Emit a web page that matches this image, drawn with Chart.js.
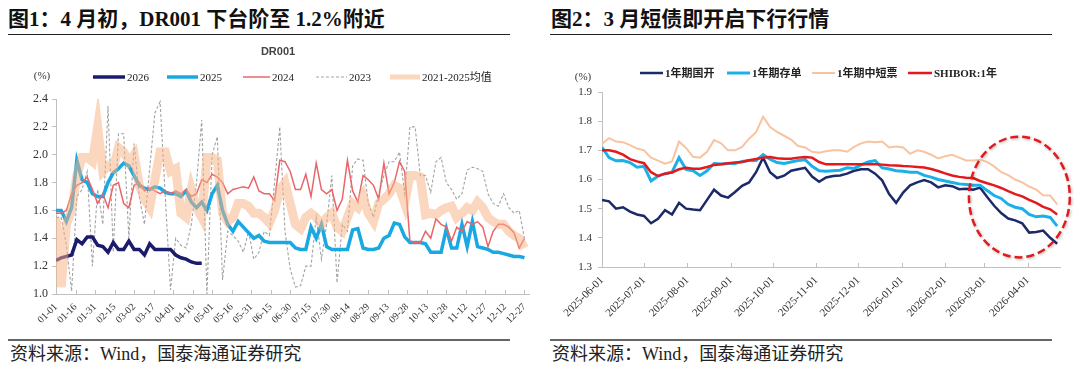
<!DOCTYPE html>
<html>
<head>
<meta charset="utf-8">
<script src="https://cdn.jsdelivr.net/npm/chart.js@4.4.1/dist/chart.umd.min.js"></script>
<style>
  body { margin: 0; width: 1080px; height: 369px; background: #fff; position: relative; overflow: hidden;
         font-family: "Liberation Serif", "Noto Sans CJK SC", serif; }
  .title { position: absolute; top: 9px; font-size: 21px; line-height: 21px; font-weight: bold; color: #111; white-space: nowrap; }
  .rule { position: absolute; height: 0; }
  .top { top: 34px; border-top: 1.5px solid #222; }
  .bottom { top: 339px; border-top: 2px solid #666; }
  .source { position: absolute; top: 345px; font-size: 18px; line-height: 18px; color: #222; white-space: nowrap; }
  .box { position: absolute; top: 40px; }
</style>
</head>
<body>
<div class="title" style="left:8px">图1：4 月初，DR001 下台阶至 1.2%附近</div>
<div class="rule top" style="left:8px;width:502px"></div>
<div class="title" style="left:551px">图2：3 月短债即开启下行行情</div>
<div class="rule top" style="left:550px;width:502px"></div>

<div class="box" style="left:0;width:540px;height:295px"><canvas id="dr001" width="540" height="295"></canvas></div>
<div class="box" style="left:545px;width:535px;height:295px"><canvas id="short" width="535" height="295"></canvas></div>

<div class="rule bottom" style="left:8px;width:502px"></div>
<div class="rule bottom" style="left:550px;width:502px"></div>
<div class="source" style="left:10px">资料来源：Wind，国泰海通证券研究</div>
<div class="source" style="left:552px">资料来源：Wind，国泰海通证券研究</div>

<script>
// ---- 图1 数据：DR001，按日历日每 4 天取一个点（从 01-01 起）----
const DR_STEP = 4;
const drTickLabels = ['01-01','01-16','01-31','02-15','03-02','03-17','04-01','04-16','05-01','05-16',
  '05-31','06-15','06-30','07-15','07-30','08-14','08-29','09-13','09-28','10-13','10-28','11-12',
  '11-27','12-12','12-27'];
const drYTicks = [1.0, 1.2, 1.4, 1.6, 1.8, 2.0, 2.2, 2.4];

const dr2026 = [1.24,1.26,1.27,1.28,1.39,1.36,1.41,1.41,1.35,1.34,
  1.30,1.37,1.32,1.32,1.38,1.32,1.32,1.28,1.36,1.32,
  1.32,1.32,1.32,1.28,1.26,1.25,1.23,1.22,1.22];
const dr2025 = [1.60,1.60,1.52,1.62,1.96,1.82,1.80,1.72,1.70,1.70,
  1.80,1.87,1.90,1.94,1.92,1.85,1.78,1.76,1.75,1.77,
  1.76,1.73,1.72,1.72,1.70,1.74,1.66,1.62,1.66,1.60,
  1.72,1.78,1.60,1.50,1.45,1.52,1.48,1.44,1.40,1.42,
  1.38,1.37,1.37,1.37,1.37,1.37,1.33,1.32,1.32,1.48,
  1.40,1.50,1.34,1.32,1.32,1.32,1.32,1.46,1.47,1.33,
  1.32,1.32,1.33,1.40,1.42,1.51,1.50,1.41,1.37,1.37,
  1.37,1.36,1.30,1.30,1.30,1.47,1.33,1.33,1.50,1.34,
  1.52,1.34,1.33,1.32,1.30,1.30,1.29,1.28,1.27,1.27,
  1.26];
const dr2024 = [1.58,1.58,1.60,1.72,1.78,1.80,1.84,1.75,1.65,1.72,
  1.62,1.78,1.80,1.65,1.62,1.78,1.80,1.74,1.76,1.74,
  1.72,1.74,1.72,1.74,1.72,1.75,1.70,1.72,1.82,1.80,
  1.86,1.84,1.80,1.72,1.75,1.76,1.77,1.76,1.84,1.74,
  1.72,1.72,1.67,1.96,1.95,1.88,1.75,1.75,1.86,1.70,
  1.94,1.75,1.72,1.75,1.60,1.68,1.96,1.74,1.66,1.85,
  1.82,1.78,1.68,1.94,1.72,1.80,1.95,1.88,1.38,1.37,
  1.37,1.45,1.40,1.54,1.50,1.48,1.38,1.48,1.45,1.52,
  1.50,1.52,1.48,1.34,1.45,1.50,1.50,1.48,1.44,1.33,
  1.40];
const dr2023 = [1.55,1.55,1.35,1.02,1.70,1.75,1.88,1.20,1.75,1.50,
  2.35,1.30,2.15,2.15,1.40,2.08,1.70,1.50,1.90,2.30,
  2.38,1.70,1.03,1.40,1.35,1.33,1.50,1.80,2.25,1.00,
  2.00,2.13,1.10,1.45,1.42,1.38,1.30,1.45,1.25,1.30,
  1.45,1.42,1.80,2.20,1.45,1.18,1.05,1.06,1.20,1.20,
  1.55,1.25,1.50,1.85,1.08,1.50,1.45,1.92,1.97,1.96,
  1.65,1.55,1.72,1.85,1.95,1.95,2.02,1.72,2.20,2.20,
  1.85,1.85,1.73,1.95,1.98,1.80,1.75,1.68,1.72,1.89,
  1.91,1.90,1.88,1.72,1.65,1.63,1.72,1.62,1.58,1.60,
  1.40];
const drAvg = [1.55,1.05,1.50,1.60,1.85,1.98,1.98,1.95,2.20,1.88,
  1.92,1.90,2.05,2.02,1.95,2.00,1.78,1.68,1.62,1.82,
  2.02,2.02,1.88,1.90,1.58,1.55,1.75,1.62,1.55,1.98,
  1.98,1.96,1.58,1.52,1.55,1.65,1.65,1.63,1.58,1.58,
  1.55,1.51,1.60,1.75,1.80,1.65,1.50,1.47,1.55,1.58,
  1.55,1.50,1.55,1.58,1.48,1.45,1.55,1.65,1.62,1.70,
  1.58,1.52,1.65,1.68,1.72,1.78,1.76,1.65,1.85,1.85,
  1.84,1.57,1.58,1.57,1.60,1.62,1.63,1.55,1.58,1.62,
  1.60,1.66,1.62,1.55,1.52,1.50,1.50,1.45,1.42,1.40,
  1.33];

// ---- 图2 数据：2025-06-01 起每 5 个日历日一个点 ----
const SB_START = '2025-06-01';
const SB_STEP = 5;
const sbTickLabels = ['2025-06-01','2025-07-01','2025-08-01','2025-09-01','2025-10-01','2025-11-01',
  '2025-12-01','2026-01-01','2026-02-01','2026-03-01','2026-04-01'];
const sbYTicks = [1.3, 1.4, 1.5, 1.6, 1.7, 1.8, 1.9];

const cdbBond = [1.53,1.525,1.50,1.505,1.49,1.48,1.475,1.45,1.465,1.495,
  1.48,1.52,1.50,1.497,1.495,1.53,1.565,1.545,1.538,1.557,
  1.578,1.59,1.625,1.675,1.625,1.605,1.613,1.63,1.635,1.64,
  1.61,1.592,1.607,1.612,1.614,1.62,1.63,1.635,1.635,1.62,
  1.597,1.55,1.52,1.555,1.58,1.59,1.598,1.59,1.573,1.58,
  1.577,1.567,1.568,1.565,1.572,1.54,1.51,1.485,1.466,1.46,
  1.45,1.418,1.42,1.425,1.40,1.38];
const ncd1y = [1.71,1.675,1.664,1.665,1.658,1.642,1.645,1.595,1.612,1.62,
  1.625,1.675,1.635,1.63,1.614,1.63,1.655,1.653,1.655,1.655,
  1.662,1.665,1.665,1.685,1.67,1.658,1.655,1.66,1.665,1.668,
  1.645,1.63,1.628,1.63,1.632,1.64,1.638,1.65,1.66,1.665,
  1.64,1.636,1.63,1.628,1.625,1.625,1.614,1.608,1.60,1.595,
  1.59,1.585,1.583,1.58,1.58,1.562,1.545,1.535,1.515,1.505,
  1.50,1.48,1.472,1.475,1.47,1.44];
const mtn1y = [1.722,1.742,1.73,1.728,1.718,1.706,1.70,1.675,1.665,1.654,
  1.662,1.73,1.708,1.678,1.675,1.695,1.735,1.724,1.70,1.70,
  1.712,1.74,1.762,1.815,1.78,1.763,1.75,1.737,1.715,1.71,
  1.695,1.692,1.697,1.70,1.70,1.695,1.712,1.724,1.73,1.728,
  1.73,1.71,1.713,1.71,1.688,1.70,1.695,1.685,1.672,1.68,
  1.685,1.675,1.665,1.665,1.668,1.66,1.645,1.625,1.615,1.60,
  1.59,1.576,1.565,1.546,1.545,1.515];
const shibor1y = [1.70,1.70,1.695,1.685,1.67,1.662,1.656,1.625,1.612,1.62,
  1.624,1.635,1.64,1.637,1.637,1.643,1.65,1.652,1.656,1.658,
  1.66,1.666,1.67,1.675,1.677,1.673,1.671,1.671,1.675,1.677,
  1.675,1.66,1.652,1.652,1.652,1.652,1.652,1.652,1.652,1.652,
  1.651,1.649,1.648,1.646,1.645,1.643,1.641,1.636,1.629,1.621,
  1.614,1.609,1.606,1.605,1.595,1.587,1.58,1.571,1.56,1.55,
  1.542,1.53,1.52,1.506,1.498,1.48];

const AXIS = '#c0c0c0';
const SERIF = '"Liberation Serif", "Noto Sans CJK SC", serif';

const toPoints = (vals, step) => vals.map((v, i) => ({ x: i * step, y: v }));
const dayOf = s => Math.round((Date.parse(s) - Date.parse(SB_START)) / 864e5);

// 图例、单位等文字
const overlayText = {
  id: 'overlayText',
  afterDraw(chart, args, opts) {
    const ctx = chart.ctx;
    ctx.save();
    ctx.textBaseline = 'middle';
    (opts.labels || []).forEach(l => {
      ctx.font = l.font;
      ctx.fillStyle = l.color || '#333';
      ctx.textAlign = l.align || 'left';
      ctx.fillText(l.text, l.x, l.y);
    });
    (opts.items || []).forEach(item => {
      const ds = chart.data.datasets[item.index];
      ctx.beginPath();
      ctx.setLineDash(ds.borderDash || []);
      ctx.lineWidth = Math.min(ds.borderWidth, item.maxWidth || 5);
      ctx.strokeStyle = ds.borderColor;
      ctx.moveTo(item.x, opts.y);
      ctx.lineTo(item.x + item.len, opts.y);
      ctx.stroke();
      ctx.setLineDash([]);
      ctx.font = opts.font;
      ctx.fillStyle = '#222';
      ctx.textAlign = 'left';
      ctx.fillText(ds.label, item.x + item.len + 2, opts.y + 1);
    });
    ctx.restore();
  }
};

// x 轴刻度线朝内
const innerTicks = {
  id: 'innerTicks',
  afterDatasetsDraw(chart) {
    const sx = chart.scales.x, ctx = chart.ctx;
    ctx.save();
    ctx.strokeStyle = AXIS;
    ctx.lineWidth = 1;
    sx.ticks.forEach(t => {
      const px = Math.round(sx.getPixelForValue(t.value)) + 0.5;
      ctx.beginPath();
      ctx.moveTo(px, sx.top);
      ctx.lineTo(px, sx.top - 4);
      ctx.stroke();
    });
    ctx.restore();
  }
};

// 红色虚线圈
const dashedCircle = {
  id: 'dashedCircle',
  afterDatasetsDraw(chart, args, opts) {
    if (!opts.center) return;
    const { x, y } = chart.scales, ctx = chart.ctx;
    const cx = x.getPixelForValue(opts.center[0]);
    const cy = y.getPixelForValue(opts.center[1]);
    const rx = Math.abs(x.getPixelForValue(opts.center[0] + opts.span[0]) - cx);
    const ry = Math.abs(y.getPixelForValue(opts.center[1] + opts.span[1]) - cy);
    ctx.save();
    ctx.shadowColor = 'rgba(0,0,0,0.3)';
    ctx.shadowBlur = 3;
    ctx.shadowOffsetX = 1;
    ctx.shadowOffsetY = 1;
    ctx.setLineDash([8, 4]);
    ctx.lineWidth = 2.5;
    ctx.strokeStyle = '#e3191c';
    ctx.beginPath();
    ctx.ellipse(cx, cy, rx, ry, 0, 0, Math.PI * 2);
    ctx.stroke();
    ctx.restore();
  }
};

function lineSet(label, data, color, width, order, extra) {
  return Object.assign({
    label, data, borderColor: color, backgroundColor: color, borderWidth: width,
    pointRadius: 0, tension: 0, fill: false, order
  }, extra || {});
}

// ---------- 图1 ----------
new Chart(document.getElementById('dr001'), {
  type: 'line',
  data: {
    datasets: [
      lineSet('2026', toPoints(dr2026, DR_STEP), '#1b1b6e', 3.5, 1),
      lineSet('2025', toPoints(dr2025, DR_STEP), '#1aa8e2', 3.5, 3),
      lineSet('2024', toPoints(dr2024, DR_STEP), '#e8666a', 1.5, 2),
      lineSet('2023', toPoints(dr2023, DR_STEP), '#a3a3a3', 1.1, 4, { borderDash: [3, 2] }),
      lineSet('2021-2025均值', toPoints(drAvg, DR_STEP), 'rgba(247,178,132,0.52)', 9, 0)
    ]
  },
  options: {
    responsive: false,
    animation: false,
    layout: { padding: { left: 0, right: 10, top: 59, bottom: 0 } },
    plugins: {
      legend: { display: false },
      tooltip: { enabled: false },
      overlayText: {
        y: 37,
        font: '11px ' + SERIF,
        items: [
          { index: 0, x: 93, len: 32 },
          { index: 1, x: 167, len: 31 },
          { index: 2, x: 243, len: 27 },
          { index: 3, x: 316, len: 31 },
          { index: 4, x: 390, len: 30, maxWidth: 5 }
        ],
        labels: [
          { text: 'DR001', x: 278, y: 12, align: 'center', font: 'bold 11px "Liberation Sans", Arial, sans-serif', color: '#444' },
          { text: '(%)', x: 42, y: 36, align: 'center', font: '11px ' + SERIF, color: '#333' }
        ]
      }
    },
    scales: {
      x: {
        type: 'linear', min: 0, max: 364,
        afterBuildTicks: axis => { axis.ticks = drTickLabels.map((_, i) => ({ value: i * 15 })); },
        afterFit: axis => { axis.height = 41; },
        grid: { display: false, drawTicks: false },
        border: { display: true, color: AXIS, width: 1 },
        ticks: {
          autoSkip: false, maxRotation: 45, minRotation: 45, padding: 7, color: '#333',
          font: { family: SERIF, size: 10 },
          callback: v => drTickLabels[Math.round(v / 15)]
        }
      },
      y: {
        min: 1.0, max: 2.4,
        afterBuildTicks: axis => { axis.ticks = drYTicks.map(v => ({ value: v })); },
        afterFit: axis => { axis.width = 56; },
        grid: { drawOnChartArea: false, tickLength: 4, color: AXIS },
        border: { color: AXIS, width: 1 },
        ticks: { padding: 4, color: '#333', font: { family: SERIF, size: 12 }, callback: v => v.toFixed(1) }
      }
    }
  },
  plugins: [overlayText, innerTicks]
});

// ---------- 图2 ----------
new Chart(document.getElementById('short'), {
  type: 'line',
  data: {
    datasets: [
      lineSet('1年期国开', toPoints(cdbBond, SB_STEP), '#1c2b68', 2.5, 3),
      lineSet('1年期存单', toPoints(ncd1y, SB_STEP), '#1cb0e8', 3, 2),
      lineSet('1年期中短票', toPoints(mtn1y, SB_STEP), '#f8c3a0', 2, 1),
      lineSet('SHIBOR:1年', toPoints(shibor1y, SB_STEP), '#e3191c', 2.5, 0)
    ]
  },
  options: {
    responsive: false,
    animation: false,
    layout: { padding: { left: 0, right: 20, top: 52, bottom: 0 } },
    plugins: {
      legend: { display: false },
      tooltip: { enabled: false },
      overlayText: {
        y: 33,
        font: 'bold 11px ' + SERIF,
        items: [
          { index: 0, x: 95, len: 23 },
          { index: 1, x: 182, len: 23 },
          { index: 2, x: 267, len: 23 },
          { index: 3, x: 363, len: 24 }
        ],
        labels: [
          { text: '(%)', x: 38, y: 37, align: 'center', font: '11px ' + SERIF, color: '#333' }
        ]
      },
      dashedCircle: { center: [298, 1.54], span: [36, 0.207] }
    },
    scales: {
      x: {
        type: 'linear', min: 0, max: 327,
        afterBuildTicks: axis => { axis.ticks = sbTickLabels.map(s => ({ value: dayOf(s) })); },
        afterFit: axis => { axis.height = 68; },
        grid: { display: false, drawTicks: false },
        border: { display: true, color: AXIS, width: 1 },
        ticks: {
          autoSkip: false, maxRotation: 45, minRotation: 45, padding: 7, color: '#333',
          font: { family: SERIF, size: 11 },
          callback: (v, i) => sbTickLabels[i]
        }
      },
      y: {
        min: 1.3, max: 1.9,
        afterBuildTicks: axis => { axis.ticks = sbYTicks.map(v => ({ value: v })); },
        afterFit: axis => { axis.width = 57; },
        grid: { drawOnChartArea: false, tickLength: 4, color: AXIS },
        border: { color: AXIS, width: 1 },
        ticks: { padding: 6, color: '#333', font: { family: SERIF, size: 11 }, callback: v => v.toFixed(1) }
      }
    }
  },
  plugins: [overlayText, innerTicks, dashedCircle]
});
</script>
</body>
</html>
